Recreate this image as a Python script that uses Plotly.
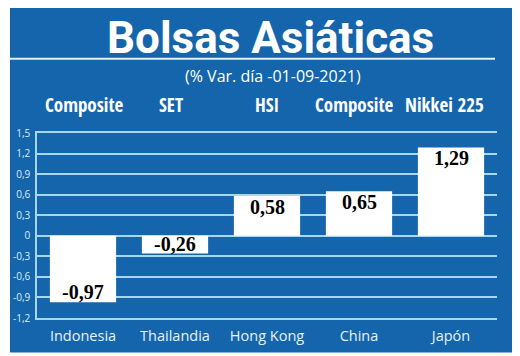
import plotly.graph_objects as go

# ---- data ----
countries = ["Indonesia", "Thailandia", "Hong Kong", "China", "Japón"]
indices = ["Composite", "SET", "HSI", "Composite", "Nikkei 225"]
values = [-0.97, -0.26, 0.58, 0.65, 1.29]
value_labels = ["-0,97", "-0,26", "0,58", "0,65", "1,29"]
y_ticks = [1.5, 1.2, 0.9, 0.6, 0.3, 0, -0.3, -0.6, -0.9, -1.2]
y_ticklabels = ["1,5", "1,2", "0,9", "0,6", "0,3", "0", "-0,3", "-0,6", "-0,9", "-1,2"]
title = "Bolsas Asiáticas"
subtitle = "(% Var. día -01-09-2021)"

BLUE = "#1565ac"
GRID = "#a6d6f0"
LIGHT = "#d8ecf8"

OFF = 8  # page body margin
W, H = 520 - OFF, 356 - OFF
L, R, T, B = 37 - OFF, 23, 133 - OFF, 37.5
pw, ph = W - L - R, H - T - B


def px_x(x):
    return (x - OFF - L) / pw


def px_y(y):
    return 1 - (y - OFF - T) / ph


fig = go.Figure()
fig.add_trace(go.Bar(
    x=countries, y=values,
    marker=dict(color="white", line=dict(width=0)),
    hoverinfo="skip",
))

annotations = []
# value labels inside bar ends
for c, v, lab in zip(countries, values, value_labels):
    annotations.append(dict(
        x=c, y=v, xref="x", yref="y", text=lab, showarrow=False,
        yanchor="top" if v >= 0 else "bottom",
        yshift=2 if v >= 0 else -3,
        font=dict(family="Liberation Serif, Times New Roman, serif", size=20, color="black", weight="bold"),
    ))
# index names above plot
shifts = [1, -4, 0, -5, -7]
for c, name, s in zip(countries, indices, shifts):
    annotations.append(dict(
        x=c, y=px_y(104.5), xref="x", yref="paper", text=name, showarrow=False,
        xshift=s, yanchor="middle",
        font=dict(family="Open Sans Condensed, Roboto Condensed, sans-serif", size=19, color="white", weight="bold"),
    ))
# title & subtitle
annotations.append(dict(
    x=px_x(270), y=px_y(37.5), xref="paper", yref="paper", text=title, showarrow=False,
    yanchor="middle", xanchor="center",
    font=dict(family="Roboto, sans-serif", size=44, color="white", weight="bold"),
))
annotations.append(dict(
    x=px_x(272.5), y=px_y(75.5), xref="paper", yref="paper", text=subtitle, showarrow=False,
    yanchor="middle", xanchor="center",
    font=dict(family="Open Sans, sans-serif", size=16, color="white"),
))

shapes = [
    dict(type="rect", xref="paper", yref="paper", layer="below",
         x0=px_x(10), x1=px_x(514), y0=px_y(353), y1=px_y(7),
         fillcolor=BLUE, line=dict(width=0)),
    dict(type="line", xref="paper", yref="paper", layer="above",
         x0=px_x(10), x1=px_x(495), y0=px_y(58.5), y1=px_y(58.5),
         line=dict(color="#dff1fb", width=2)),
]

fig.update_layout(
    width=W, height=H,
    margin=dict(l=L, r=R, t=T, b=B, pad=0, autoexpand=False),
    paper_bgcolor="white",
    plot_bgcolor=BLUE,
    bargap=0.28,
    showlegend=False,
    annotations=annotations,
    shapes=shapes,
    xaxis=dict(
        showgrid=False, zeroline=False, ticks="",
        showline=True, mirror=True, linecolor=GRID, linewidth=1.5,
        tickfont=dict(family="Open Sans, sans-serif", size=14.5, color="#e4f2fb"),
        ticklabelstandoff=4, fixedrange=True, automargin=False,
    ),
    yaxis=dict(
        range=[-1.2, 1.5], tickvals=y_ticks, ticktext=y_ticklabels,
        showgrid=True, gridcolor=GRID, gridwidth=1.5,
        zeroline=True, zerolinecolor=GRID, zerolinewidth=1.5,
        showline=True, linecolor=GRID, linewidth=1.5,
        ticks="", ticklabelstandoff=3,
        tickfont=dict(family="Open Sans, sans-serif", size=10, color=LIGHT),
        fixedrange=True, automargin=False,
    ),
)

fig.write_html("out.html")
